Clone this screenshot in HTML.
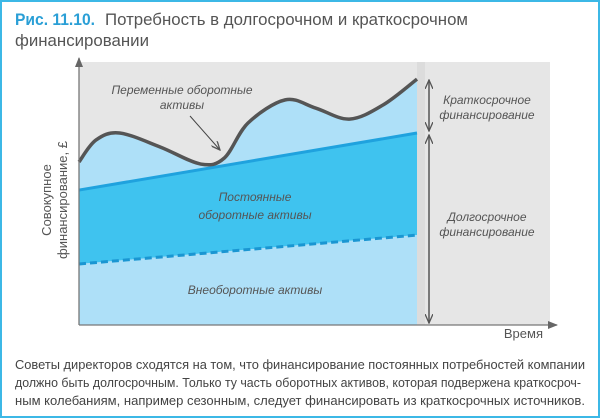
<!DOCTYPE html>
<html><head><meta charset="utf-8"><style>
body{margin:0;width:600px;height:418px;overflow:hidden;background:#fff;font-family:"Liberation Sans",sans-serif}
#frame{position:absolute;left:0;top:0;width:596px;height:414px;border:2px solid #3cb8e6}
</style></head><body>
<div id="frame"></div>
<svg width="600" height="418" style="position:absolute;left:0;top:0">
<defs><marker id="ah" markerWidth="10" markerHeight="8" refX="9" refY="4" orient="auto-start-reverse" markerUnits="userSpaceOnUse"><path d="M0,0 L9,4 L0,8" fill="none" stroke="#555" stroke-width="1.3"/></marker>
<marker id="ax" markerWidth="10" markerHeight="8" refX="9" refY="4" orient="auto" markerUnits="userSpaceOnUse"><path d="M0,0 L10,4 L0,8 Z" fill="#666"/></marker></defs>
<text x="15" y="25" font-size="17" font-weight="bold" fill="#2a9fd6" textLength="80" lengthAdjust="spacingAndGlyphs">Рис. 11.10.</text>
<text x="105" y="25" font-size="17" fill="#555" textLength="363" lengthAdjust="spacingAndGlyphs">Потребность в долгосрочном и краткосрочном</text>
<text x="15" y="46" font-size="17" fill="#555" textLength="134" lengthAdjust="spacingAndGlyphs">финансировании</text>
<rect x="79" y="62" width="471" height="263" fill="#e6e6e6"/>
<rect x="417" y="62" width="8" height="263" fill="#dcdcdc"/>
<g id="marks"></g>
<line x1="79" y1="325" x2="79" y2="58" stroke="#777" stroke-width="1.3" marker-end="url(#ax)"/>
<line x1="79" y1="325" x2="557" y2="325" stroke="#777" stroke-width="1.3" marker-end="url(#ax)"/>
<text x="543" y="338" font-size="13" fill="#555" text-anchor="end">Время</text>
<g transform="translate(0,200) rotate(-90)" font-size="13" fill="#555" text-anchor="middle">
<text x="0" y="51">Совокупное</text><text x="0" y="67">финансирование, £</text></g>
<g font-size="12" font-style="italic" fill="#555" text-anchor="middle">
<text x="182" y="94">Переменные оборотные</text>
<text x="182" y="109">активы</text>
<text x="255" y="201">Постоянные</text>
<text x="255" y="219">оборотные активы</text>
<text x="255" y="294">Внеоборотные активы</text>
<text x="487" y="104">Краткосрочное</text>
<text x="487" y="119">финансирование</text>
<text x="487" y="221">Долгосрочное</text>
<text x="487" y="236">финансирование</text>
</g>
<line x1="190" y1="116" x2="220" y2="150" stroke="#444" stroke-width="1" marker-end="url(#ah)"/>
<line x1="429" y1="80" x2="429" y2="131" stroke="#555" stroke-width="1.5" marker-start="url(#ah)" marker-end="url(#ah)"/>
<line x1="429" y1="135" x2="429" y2="323" stroke="#555" stroke-width="1.5" marker-start="url(#ah)" marker-end="url(#ah)"/>
<g font-size="12.5" fill="#444">
<text x="15" y="369" textLength="570" lengthAdjust="spacingAndGlyphs">Советы директоров сходятся на том, что финансирование постоянных потребностей компании</text>
<text x="15" y="387" textLength="566" lengthAdjust="spacingAndGlyphs">должно быть долгосрочным. Только ту часть оборотных активов, которая подвержена краткосроч-</text>
<text x="15" y="405" textLength="570" lengthAdjust="spacingAndGlyphs">ным колебаниям, например сезонным, следует финансировать из краткосрочных источников.</text>
</g>
</svg>
<script>
const curveT=[0,0.5,1.2,2.4,3.6,4.3,5,6.1,7,8,9,10];
const curveV=[62,70.3,73,67.7,61.2,63.5,76.8,85.6,82.5,78.3,83.7,93.5];
const permT=[0,10];
const permV=[51.3,73];
const fixedT=[0,10];
const fixedV=[23.2,34.2];
const X=t=>79+t*33.8, Y=v=>325-v*2.63;
const NS="http://www.w3.org/2000/svg", g=document.getElementById('marks');
function pts(T,V){return T.map((t,i)=>[X(t),Y(V[i])]);}
function spline(p){let d="";for(let i=0;i<p.length-1;i++){const p0=p[i-1]||p[i],p1=p[i],p2=p[i+1],p3=p[i+2]||p2;
const c1=[p1[0]+(p2[0]-p0[0])/6,p1[1]+(p2[1]-p0[1])/6],c2=[p2[0]-(p3[0]-p1[0])/6,p2[1]-(p3[1]-p1[1])/6];
d+=` C${c1[0]},${c1[1]} ${c2[0]},${c2[1]} ${p2[0]},${p2[1]}`;}return d;}
function mk(d,attrs){const e=document.createElementNS(NS,'path');e.setAttribute('d',d);for(const k in attrs)e.setAttribute(k,attrs[k]);g.appendChild(e);return e;}
const cp=pts(curveT,curveV),pp=pts(permT,permV),fp=pts(fixedT,fixedV);
const x0=X(0),x1=X(10),yb=325;
let e;
e=mk(`M${x0},${yb} L${cp[0][0]},${cp[0][1]}`+spline(cp)+` L${x1},${yb} Z`,{fill:'#aee0f8'});


e=mk(`M${fp[0][0]},${fp[0][1]} L${pp[0][0]},${pp[0][1]} L${pp[1][0]},${pp[1][1]} L${fp[1][0]},${fp[1][1]} Z`,{fill:'#3fc3ef'});


e=mk(`M${fp[0][0]},${fp[0][1]} L${fp[1][0]},${fp[1][1]} L${x1},${yb} L${x0},${yb} Z`,{fill:'#aee0f8'});


e=mk(`M${pp[0][0]},${pp[0][1]} L${pp[1][0]},${pp[1][1]}`,{stroke:'#1fa2de','stroke-width':3,fill:'none'});


e=mk(`M${fp[0][0]},${fp[0][1]} L${fp[1][0]},${fp[1][1]}`,{stroke:'#1a96d2','stroke-width':3,fill:'none','stroke-dasharray':'7 4'});


e=mk(`M${cp[0][0]},${cp[0][1]}`+spline(cp),{stroke:'#555','stroke-width':3.5,fill:'none'});


</script>
</body></html>
